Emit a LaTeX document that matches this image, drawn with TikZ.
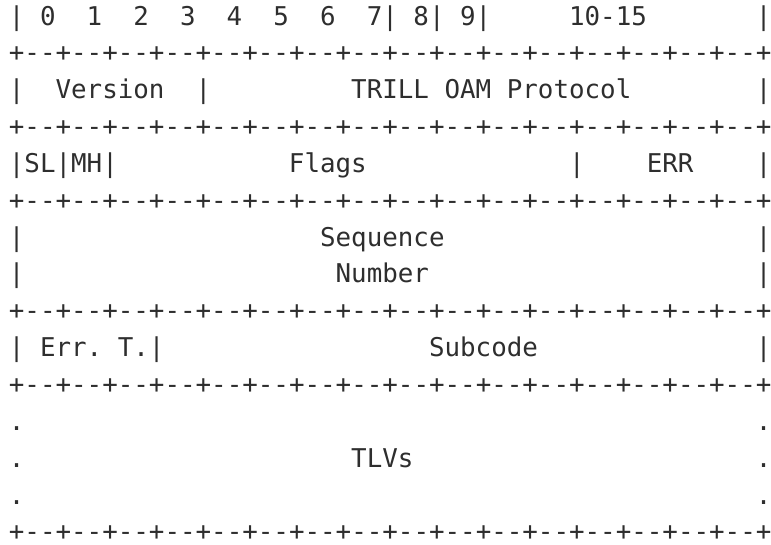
\documentclass[tikz,border=0pt]{standalone}
\usepackage{fontspec}
\setmonofont{DejaVu Sans Mono}
\definecolor{ink}{HTML}{2E2E2E}
\frenchspacing
\newcommand\asc[4]{\node[txt] (#1) at ({8.9+#2*15.56},{-(25+#3*36.85)}) {#4};}
\newcommand\bordline{+--+--+--+--+--+--+--+--+--+--+--+--+--+--+--+--+}
\begin{document}
\begin{tikzpicture}[x=1pt,y=1pt,
  txt/.style={anchor=base west, inner sep=0pt, outer sep=0pt,
    font=\ttfamily\fontsize{25.85}{30}\selectfont, text=ink}]
\useasboundingbox (0,0) rectangle (771,-544);
% row 0
\asc{a0}{0}{0}{|}
\asc{a1}{2}{0}{0}
\asc{a2}{5}{0}{1}
\asc{a3}{8}{0}{2}
\asc{a4}{11}{0}{3}
\asc{a5}{14}{0}{4}
\asc{a6}{17}{0}{5}
\asc{a7}{20}{0}{6}
\asc{a8}{23}{0}{7|}
\asc{a9}{26}{0}{8|}
\asc{a10}{29}{0}{9|}
\asc{a11}{36}{0}{10-15}
\asc{a12}{48}{0}{|}
% separators
\asc{s1}{0}{1}{\bordline}
\asc{s3}{0}{3}{\bordline}
\asc{s5}{0}{5}{\bordline}
\asc{s8}{0}{8}{\bordline}
\asc{s10}{0}{10}{\bordline}
\asc{s14}{0}{14}{\bordline}
% row 2
\asc{b0}{0}{2}{|}
\asc{b1}{3}{2}{Version}
\asc{b2}{12}{2}{|}
\asc{b3}{22}{2}{TRILL OAM Protocol}
\asc{b4}{48}{2}{|}
% row 4
\asc{c0}{0}{4}{|SL|MH|}
\asc{c1}{18}{4}{Flags}
\asc{c2}{36}{4}{|}
\asc{c3}{41}{4}{ERR}
\asc{c4}{48}{4}{|}
% rows 6-7
\asc{d0}{0}{6}{|}
\asc{d1}{20}{6}{Sequence}
\asc{d2}{48}{6}{|}
\asc{e0}{0}{7}{|}
\asc{e1}{21}{7}{Number}
\asc{e2}{48}{7}{|}
% row 9
\asc{f0}{0}{9}{|}
\asc{f1}{2}{9}{Err. T.|}
\asc{f2}{27}{9}{Subcode}
\asc{f3}{48}{9}{|}
% rows 11-13
\asc{g0}{0}{11}{.}
\asc{g1}{48}{11}{.}
\asc{h0}{0}{12}{.}
\asc{h1}{22}{12}{TLVs}
\asc{h2}{48}{12}{.}
\asc{i0}{0}{13}{.}
\asc{i1}{48}{13}{.}
\end{tikzpicture}
\end{document}
